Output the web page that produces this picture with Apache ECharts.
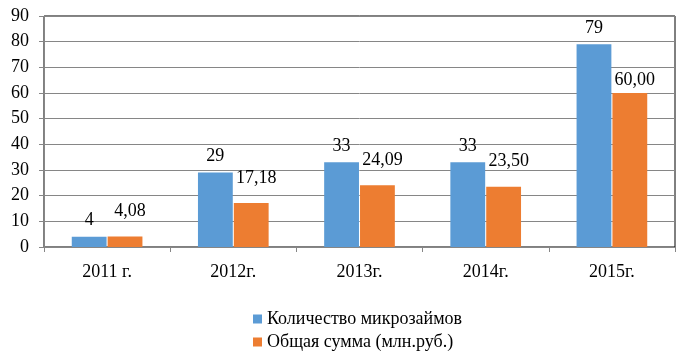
<!DOCTYPE html>
<html><head><meta charset="utf-8">
<script src="https://cdn.jsdelivr.net/npm/echarts@6/dist/echarts.min.js"></script>
<style>html,body{margin:0;padding:0;background:#fff}#c{width:690px;height:362px}</style>
</head><body><div id="c"></div>
<script>
var categories = ['2011 г.', '2012г.', '2013г.', '2014г.', '2015г.'];
var countValues = [4, 29, 33, 33, 79];
var sumValues = [4.08, 17.18, 24.09, 23.50, 60.00];
var seriesNames = ['Количество микрозаймов', 'Общая сумма (млн.руб.)'];
var yTicks = [0, 10, 20, 30, 40, 50, 60, 70, 80, 90];

var font = '"Liberation Serif", "Times New Roman", serif';
var fs = 18;
var sumData = sumValues.map(function (v, i) {
  // the last label sits closer to its bar in the reference
  return i === sumValues.length - 1 ? {value: v, label: {distance: 4}} : {value: v};
});
var chart = echarts.init(document.getElementById('c'));
chart.setOption({
  animation: false,
  textStyle: {fontFamily: font},
  grid: {left: 44, right: 15, top: 16, bottom: 115, show: true, borderColor: '#000', borderWidth: 1},
  legend: {
    orient: 'vertical', left: 248, top: 305, padding: 5, itemWidth: 9, itemHeight: 9, itemGap: 5,
    icon: 'rect',
    textStyle: {fontFamily: font, fontSize: fs, color: '#000'},
    data: seriesNames
  },
  xAxis: {
    type: 'category', data: categories,
    axisLine: {lineStyle: {color: '#868686'}},
    axisTick: {show: true, length: 5, lineStyle: {color: '#868686'}},
    axisLabel: {fontFamily: font, fontSize: fs, color: '#000', margin: 16}
  },
  yAxis: {
    type: 'value', min: yTicks[0], max: yTicks[yTicks.length - 1], interval: 10,
    axisLine: {show: true, lineStyle: {color: '#868686'}},
    axisTick: {show: true, length: 5, lineStyle: {color: '#868686'}},
    splitLine: {lineStyle: {color: '#868686'}},
    axisLabel: {fontFamily: font, fontSize: fs, color: '#000', margin: 15}
  },
  series: [
    {
      name: seriesNames[0], type: 'bar', data: countValues,
      barCategoryGap: '44%', barGap: '3%',
      itemStyle: {color: '#5B9BD5'},
      label: {show: true, position: 'top', distance: 7, fontFamily: font, fontSize: fs, color: '#000'}
    },
    {
      name: seriesNames[1], type: 'bar', data: sumData,
      itemStyle: {color: '#ED7D31'},
      label: {show: true, position: 'top', distance: 16, offset: [5, 0], fontFamily: font, fontSize: fs, color: '#000',
        formatter: function (p) { return p.value.toFixed(2).replace('.', ','); }}
    }
  ]
});
</script></body></html>
